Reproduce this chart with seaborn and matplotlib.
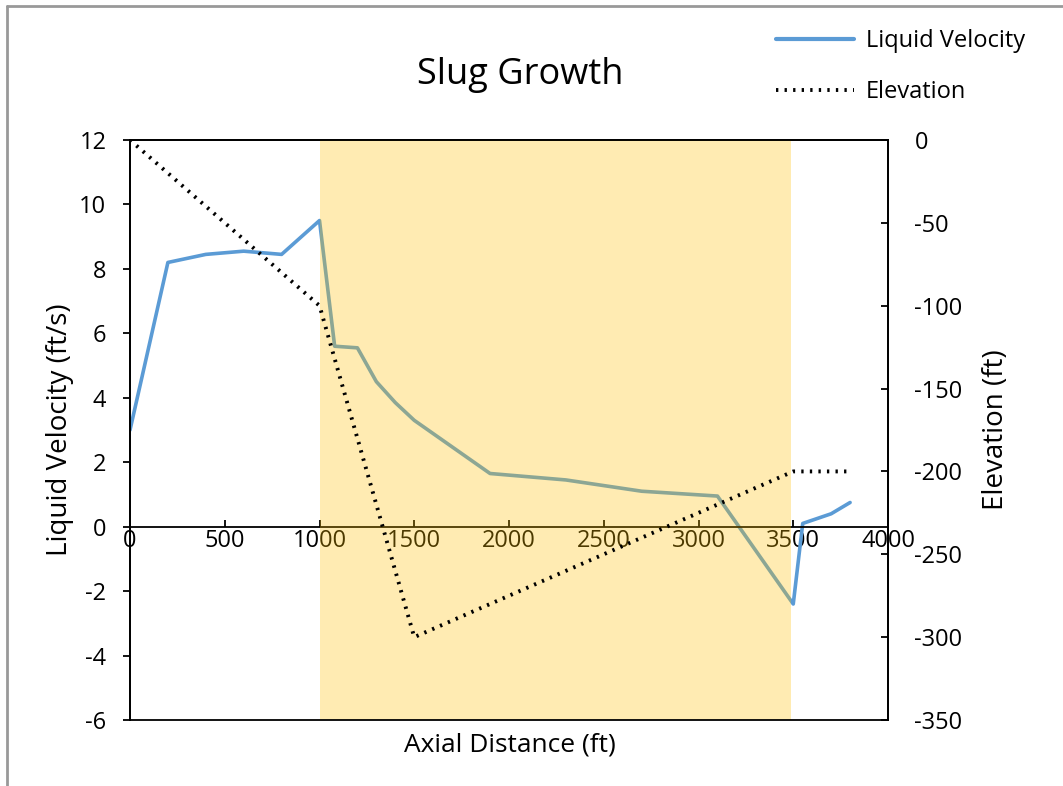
import matplotlib
matplotlib.use("Agg")
import matplotlib.pyplot as plt
import seaborn as sns
import pandas as pd
from matplotlib.lines import Line2D

# ---- data ----
vel_x = [0, 200, 400, 600, 800, 1000, 1080, 1200, 1300, 1400, 1500, 1900, 2300, 2700, 3100, 3500, 3550, 3650, 3700, 3800]
vel_y = [3.0, 8.2, 8.45, 8.55, 8.45, 9.5, 5.6, 5.55, 4.5, 3.85, 3.3, 1.65, 1.45, 1.1, 0.95, -2.4, 0.1, 0.3, 0.4, 0.75]
elev_x = [0, 1000, 1500, 3500, 3800]
elev_y = [0, -100, -300, -200, -200]
shade_range = [1000, 3490]
x_ticks = [0, 500, 1000, 1500, 2000, 2500, 3000, 3500, 4000]
left_ticks = [-6, -4, -2, 0, 2, 4, 6, 8, 10, 12]
right_ticks = [-350, -300, -250, -200, -150, -100, -50, 0]

sns.set_theme(style="white")
plt.rcParams['font.family'] = ['Open Sans', 'DejaVu Sans']
plt.rcParams['text.color'] = 'black'
plt.rcParams['axes.labelcolor'] = 'black'
plt.rcParams['xtick.color'] = 'black'
plt.rcParams['ytick.color'] = 'black'

fig = plt.figure(figsize=(10.63, 7.86), dpi=100)
ax = fig.add_axes([130/1063, 1-720/786, (888-130)/1063, (720-140)/786])

vel_df = pd.DataFrame({"x": vel_x, "y": vel_y})
elev_df = pd.DataFrame({"x": elev_x, "y": elev_y})

sns.lineplot(data=vel_df, x="x", y="y", ax=ax, sort=False, estimator=None,
             color="#5B9BD5", linewidth=2.6, zorder=2)
ax.axvspan(shade_range[0], shade_range[1], color="#FFC000", alpha=0.3, lw=0, zorder=3)

ax.set_xlim(0, 4000)
ax.set_ylim(-6, 12)
ax.set_xticks(x_ticks)
ax.set_yticks(left_ticks)
ax.set_xticklabels([str(t) for t in x_ticks])
ax.set_yticklabels([str(t) for t in left_ticks])

for s in ["left", "right", "top"]:
    ax.spines[s].set_visible(True)
    ax.spines[s].set_color("black")
    ax.spines[s].set_linewidth(1.3)
ax.spines["bottom"].set_position(("data", 0))
ax.spines["bottom"].set_color("black")
ax.spines["bottom"].set_linewidth(1.3)

ax.tick_params(axis="x", direction="in", length=5, width=1.3, color="black",
               labelsize=17, pad=2, bottom=True)
ax.tick_params(axis="y", direction="out", length=5, width=1.3, color="black",
               labelsize=17, pad=12, left=True)
ax.set_xlabel("")
ax.set_ylabel("Liquid Velocity (ft/s)", fontsize=20, labelpad=4)

ax2 = ax.twinx()
sns.lineplot(data=elev_df, x="x", y="y", ax=ax2, sort=False, estimator=None,
             color="black", linewidth=2.8, linestyle=(0, (0.6, 1.6)), zorder=4)
ax2.set_ylim(-350, 0)
ax2.set_yticks(right_ticks)
ax2.set_yticklabels([str(t) for t in right_ticks])
for s in ["left", "right", "top", "bottom"]:
    ax2.spines[s].set_visible(True)
    ax2.spines[s].set_color("black")
    ax2.spines[s].set_linewidth(1.3)
ax2.tick_params(axis="y", direction="in", length=5, width=1.3, color="black",
                labelsize=17, pad=19, right=True)
ax2.set_xlabel("")
ax2.set_ylabel("Elevation (ft)", fontsize=20, labelpad=14)

fig.text(510/1063, 1-745/786, "Axial Distance (ft)", ha="center", va="center", fontsize=19)
fig.text(520/1063, 1-75/786, "Slug Growth", ha="center", va="center", fontsize=26)

handles = [Line2D([], [], color="#5B9BD5", linewidth=3),
           Line2D([], [], color="black", linewidth=2.8, linestyle=(0, (0.6, 1.6)))]
fig.legend(handles, ["Liquid Velocity", "Elevation"], loc="upper left",
           bbox_to_anchor=(755/1063, 1-8/786), frameon=False, fontsize=17,
           handlelength=3.3, handletextpad=0.5, labelspacing=1.15)

# outer frame lines (top and left)
fig.add_artist(Line2D([7/1063, 7/1063], [0, 1-6/786], transform=fig.transFigure, color="#999999", lw=2))
fig.add_artist(Line2D([7/1063, 1], [1-6/786, 1-6/786], transform=fig.transFigure, color="#999999", lw=2))

fig.savefig("out.png", dpi=100)
